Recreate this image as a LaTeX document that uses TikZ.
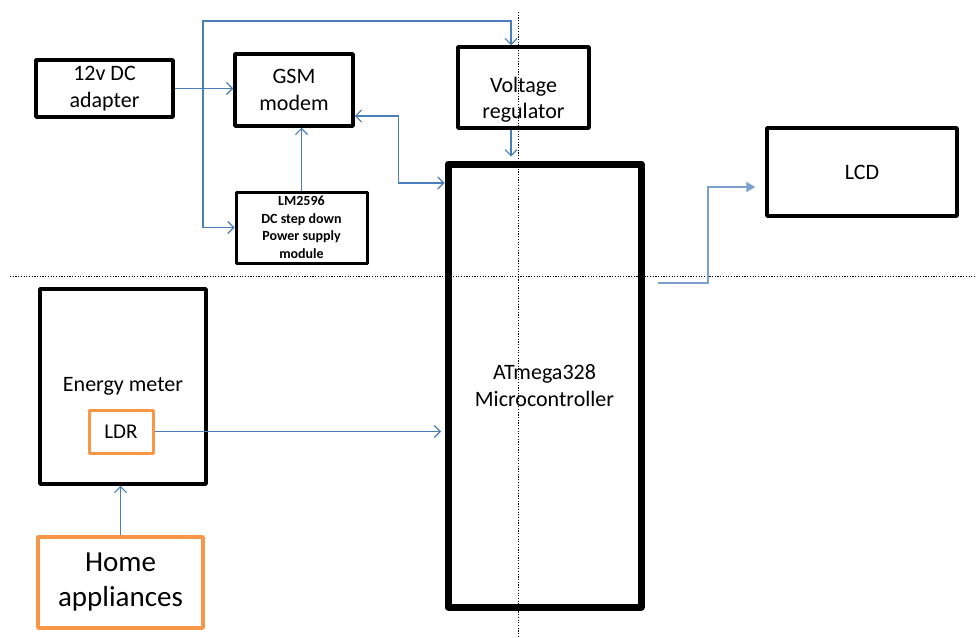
\documentclass[tikz,border=0pt]{standalone}
\usepackage{fontspec}
\setmainfont{Carlito}
\usetikzlibrary{arrows.meta}
\definecolor{connc}{HTML}{4A7EBB}
\definecolor{lconnc}{HTML}{7BA0CD}
\definecolor{orng}{HTML}{F79646}
\begin{document}
\begin{tikzpicture}[x=1pt,y=-1pt,
  box/.style={draw, line width=3.5pt, line join=round, inner sep=0pt, align=center,
    font=\fontsize{22}{26.5}\selectfont},
  obox/.style={box, draw=orng, line width=3.5pt},
  txt/.style={inner sep=0pt, align=center, font=\fontsize{22}{26.5}\selectfont},
  conn/.style={draw=connc, line width=1.2pt, -{Straight Barb[length=6pt,width=12pt,line width=1.1pt]}},
  dotline/.style={draw=black, line width=1pt, dash pattern=on 1.2pt off 1.5pt}]
\useasboundingbox (0,0) rectangle (976,637);

% dotted guide lines
\draw[dotline] (518.5,12) -- (518.5,637);
\draw[dotline] (10,276) -- (976,276);

% boxes
\node[box, minimum width=137pt, minimum height=57pt] (adapter) at (104.5,88.5) {12v DC\\adapter};
\node[box, minimum width=118pt, minimum height=72pt] (gsm) at (294,90) {GSM\\modem};
\node[box, minimum width=131pt, minimum height=81pt] (vreg) at (523.5,87.5) {};
\node[txt] (vregtext) at (523.5,100) {Voltage\\regulator};
\node[box, line width=3pt, minimum width=131pt, minimum height=71pt,
      font=\fontsize{14}{17.5}\selectfont\bfseries] (lm) at (301.5,227.5)
      {LM2596\\DC step down\\Power supply\\module};
\node[box, line width=7pt, minimum width=193pt, minimum height=443pt] (mcu) at (544.5,385.5)
      {ATmega328\\Microcontroller};
\node[box, minimum width=190pt, minimum height=88pt] (lcd) at (862,172) {LCD};
\node[box, minimum width=166pt, minimum height=195pt] (meter) at (123,386.5) {Energy meter};
\node[obox, line width=3pt, minimum width=64pt, minimum height=43pt,
      font=\fontsize{21}{25}\selectfont] (ldr) at (121,431.5) {LDR};
\node[obox, minimum width=165pt, minimum height=91pt,
      font=\fontsize{29}{35}\selectfont] (home) at (120.5,582.5) {Home\\appliances};

% connectors
\coordinate (j) at (203,89);
\draw[conn] (adapter.east) -- (adapter.east -| gsm.west);
\draw[conn] (j) -- (203,21) -| ([xshift=-12.5pt]vreg.north);
\draw[conn] (j) |- (lm.west);
\draw[conn] (lm.north) -- (lm.north |- gsm.south);
\draw[conn, {Straight Barb[length=6pt,width=12pt,line width=1.1pt]}-{Straight Barb[length=6pt,width=12pt,line width=1.1pt]}]
  ([yshift=-26pt]gsm.east) -- ++(44pt,0) |- ([yshift=202.5pt]mcu.west);
\draw[conn, shorten >=4pt] ([xshift=-12.5pt]vreg.south) -- ([xshift=-12.5pt]vreg.south |- mcu.north);
\draw[draw=lconnc, line width=2pt, shorten <=13pt, shorten >=10pt, -{Triangle[length=9pt,width=10pt]}]
  ([yshift=102.5pt]mcu.east) -- ++(63.5pt,0) |- ([yshift=-15pt]lcd.west);
\draw[conn, shorten >=3.5pt] (ldr.east) -- (ldr.east -| mcu.west);
\draw[conn] (home.north) -- (home.north |- meter.south);
\end{tikzpicture}
\end{document}
